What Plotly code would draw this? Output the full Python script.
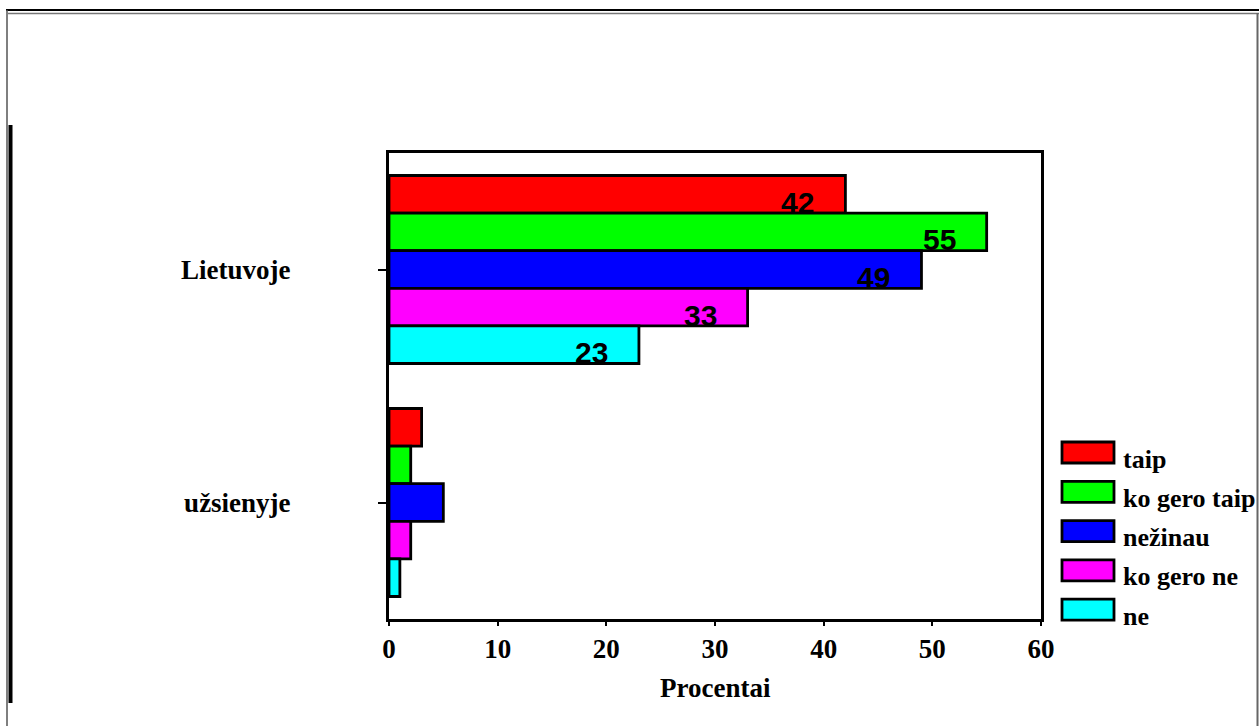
import plotly.graph_objects as go

W, H = 1259, 726

categories = ["Lietuvoje", "užsienyje"]
series_names = ["taip", "ko gero taip", "nežinau", "ko gero ne", "ne"]
values_lietuvoje = [42, 55, 49, 33, 23]
values_uzsienyje = [3, 2, 5, 2, 1]
colors = ["#FF0000", "#00FF00", "#0000FF", "#FF00FF", "#00FFFF"]
x_ticks = [0, 10, 20, 30, 40, 50, 60]
x_title = "Procentai"

serif = "Times New Roman, Liberation Serif, serif"
sans = "Arial, Liberation Sans, sans-serif"

BARGAP = 0.193

fig = go.Figure()
for i, name in enumerate(series_names):
    fig.add_trace(go.Bar(
        y=categories,
        x=[values_lietuvoje[i], values_uzsienyje[i]],
        name=name,
        orientation="h",
        marker=dict(color=colors[i], line=dict(color="black", width=2.8)),
        showlegend=False,
    ))

# value labels inside Lietuvoje bars
n = len(series_names)
group_w = 1 - BARGAP
bw = group_w / n
annotations = []
for i, v in enumerate(values_lietuvoje):
    yc = 0 - group_w / 2 + bw * (i + 0.5)
    annotations.append(dict(
        x=v, y=yc, xref="x", yref="y", text=str(v), showarrow=False,
        xanchor="right", yanchor="middle", xshift=-29, yshift=-8,
        font=dict(family=sans, size=30, color="black", weight="bold"),
    ))

def px(xp):
    return xp / W

def py(yp):
    return 1 - yp / H

# custom legend
shapes = []
leg_x0, leg_x1 = 1062, 1114
leg_top0 = 442
leg_step = 39.3
for i, name in enumerate(series_names):
    t = leg_top0 + leg_step * i
    shapes.append(dict(type="rect", xref="paper", yref="paper",
                       x0=px(leg_x0), x1=px(leg_x1), y0=py(t + 21), y1=py(t),
                       fillcolor=colors[i], line=dict(color="black", width=2.8)))
    annotations.append(dict(
        x=px(1121), y=py(t + 17), xref="paper", yref="paper", text=name,
        showarrow=False, xanchor="left", yanchor="middle",
        font=dict(family=serif, size=26, color="black", weight="bold"),
    ))

# x-axis title
annotations.append(dict(
    x=px(715), y=py(688), xref="paper", yref="paper", text=x_title,
    showarrow=False, xanchor="center", yanchor="middle",
    font=dict(family=serif, size=27, color="black", weight="bold"),
))

# outer frame lines
shapes += [
    dict(type="line", xref="paper", yref="paper", x0=px(6), x1=1, y0=py(10), y1=py(10),
         line=dict(color="black", width=2)),
    dict(type="line", xref="paper", yref="paper", x0=px(8), x1=1, y0=py(13.5), y1=py(13.5),
         line=dict(color="#777777", width=1.5)),
    dict(type="line", xref="paper", yref="paper", x0=px(7), x1=px(7), y0=py(10), y1=0,
         line=dict(color="#555555", width=1.5)),
    dict(type="line", xref="paper", yref="paper", x0=px(10.5), x1=px(10.5), y0=py(125), y1=py(703),
         line=dict(color="black", width=4)),
    dict(type="line", xref="paper", yref="paper", x0=px(1257.5), x1=px(1257.5), y0=py(13), y1=0,
         line=dict(color="#666666", width=2)),
]

fig.update_layout(
    width=W, height=H,
    margin=dict(l=0, r=0, t=0, b=0, pad=0, autoexpand=False),
    paper_bgcolor="white", plot_bgcolor="white",
    barmode="group", bargap=BARGAP, bargroupgap=0,
    annotations=annotations, shapes=shapes,
    xaxis=dict(
        domain=[px(389), px(1041)], range=[0, 60],
        tickvals=x_ticks, ticktext=[str(t) for t in x_ticks],
        showgrid=False, zeroline=False,
        showline=True, linecolor="black", linewidth=3, mirror=True,
        ticks="outside", ticklen=4, tickwidth=2, tickcolor="black",
        tickfont=dict(family=serif, size=27, color="black", weight="bold"),
        automargin=False,
    ),
    yaxis=dict(
        domain=[py(619), py(153)], range=[1.5, -0.5],
        showgrid=False, zeroline=False,
        showline=True, linecolor="black", linewidth=3, mirror=True,
        ticks="outside", ticklen=8, tickwidth=2, tickcolor="black",
        ticklabelstandoff=82,
        tickfont=dict(family=serif, size=27, color="black", weight="bold"),
        automargin=False,
    ),
)

fig.write_html(
    "out.html",
    config={"displayModeBar": False},
    post_script="document.body.style.margin='0';document.body.style.overflow='hidden';",
)
